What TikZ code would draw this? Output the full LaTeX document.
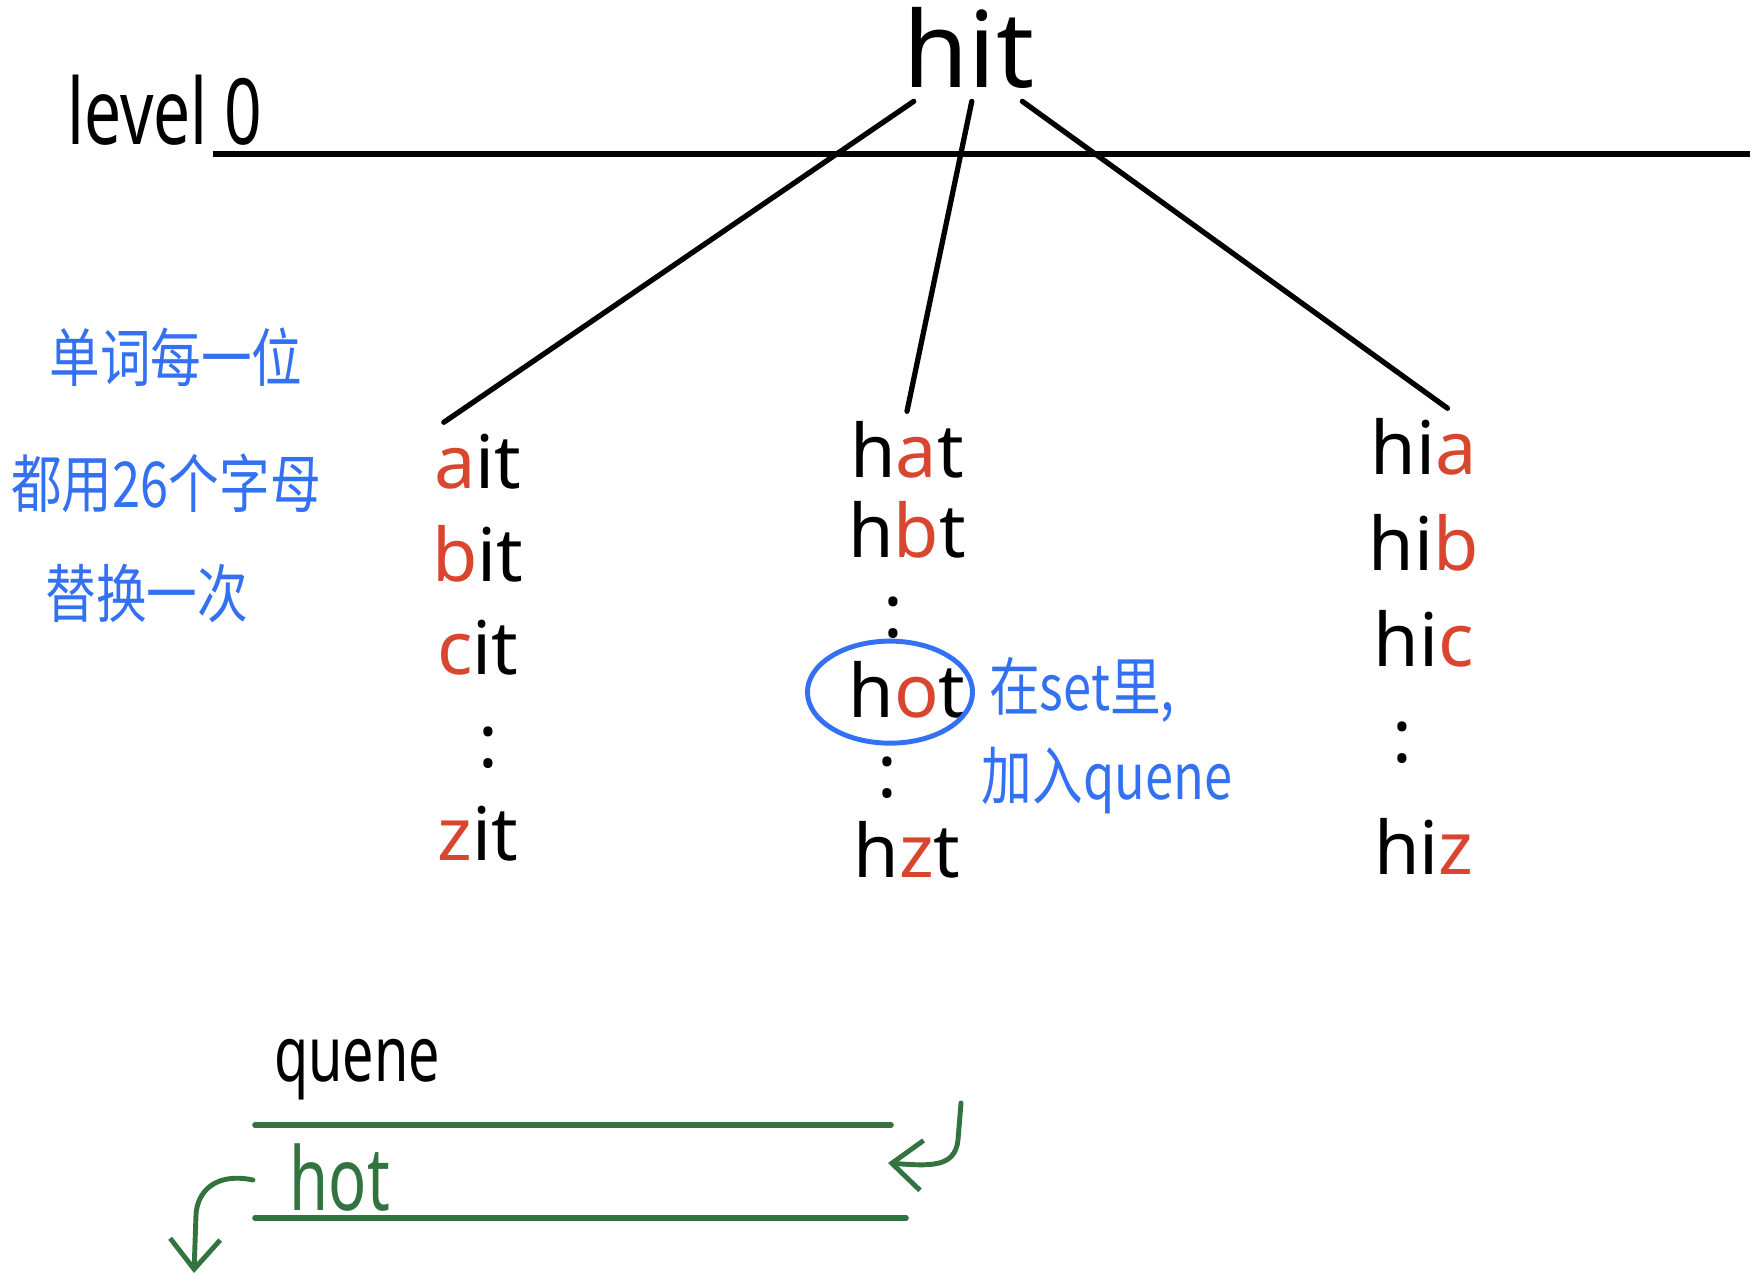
\documentclass[tikz,border=0pt]{standalone}
\usepackage{fontspec}
\setmainfont{Noto Sans}
\newfontfamily\narrowfont[FakeStretch=0.72]{Noto Sans}
\newfontfamily\cjk[FakeStretch=0.8]{Noto Sans CJK SC}
\usepackage{xcolor}
\usetikzlibrary{arrows.meta, positioning, shapes.geometric}

\definecolor{inkred}{HTML}{D9462F}
\definecolor{inkblue}{HTML}{3371F2}
\definecolor{inkgreen}{HTML}{33733F}

\begin{document}
\begin{tikzpicture}[x=0.01cm, y=-0.01cm]
 \tikzstyle{word}=[inner sep=0.1cm, text height=0.55cm, text depth=0.05cm,
   font=\fontsize{21}{24}\selectfont]
 \tikzstyle{note}=[text=inkblue, inner sep=0pt,
   font=\cjk\fontsize{18}{22}\selectfont]
 \tikzstyle{branch}=[line width=1.5pt, line cap=round]
 \tikzstyle{qline}=[draw=inkgreen, line width=1.6pt, line cap=round]
 \tikzstyle{qarrow}=[draw=inkgreen, line width=1.4pt, line cap=round,
   -{Straight Barb[length=0.3cm, width=0.5cm]}]
 \useasboundingbox (0,0) rectangle (1762,1281);
 % root word and the level line
 \node (root) [inner sep=0.12cm, font=\fontsize{30}{34}\selectfont]
   at (969,48) {hit};
 \node (lvl) [font=\narrowfont\fontsize{26}{30}\selectfont]
   at (165,110) {level 0};
 \coordinate (lvlL) at (213,154);
 \coordinate (lvlR) at (1750,154);
 \draw[line width=1.8pt] (lvlL) -- (lvlR);
 % first letter changed
 \node (ait) [word] at (478,463) {\textcolor{inkred}{a}it};
 \begin{scope}[node distance=0.93cm]
 \node (bit) [word,below of=ait] {\textcolor{inkred}{b}it};
 \node (cit) [word,below of=bit] {\textcolor{inkred}{c}it};
 \node (dotsA) [word,below of=cit,xshift=0.1cm] {:};
 \node (zit) [word,below of=dotsA,xshift=-0.1cm] {\textcolor{inkred}{z}it};
 \end{scope}
 % second letter changed
 \node (hat) [word] at (907,452) {h\textcolor{inkred}{a}t};
 \begin{scope}[node distance=0.8cm]
 \node (hbt) [word,below of=hat] {h\textcolor{inkred}{b}t};
 \node (dotsB) [word,below of=hbt,xshift=-0.14cm] {:};
 \node (hot) [word,below of=dotsB,xshift=0.14cm] {h\textcolor{inkred}{o}t};
 \node (dotsC) [word,below of=hot,xshift=-0.2cm] {:};
 \node (hzt) [word,below of=dotsC,xshift=0.2cm] {h\textcolor{inkred}{z}t};
 \end{scope}
 % third letter changed
 \node (hia) [word] at (1424,449) {hi\textcolor{inkred}{a}};
 \begin{scope}[node distance=0.96cm]
 \node (hib) [word,below of=hia] {hi\textcolor{inkred}{b}};
 \node (hic) [word,below of=hib] {hi\textcolor{inkred}{c}};
 \node (dotsD) [word,below of=hic,xshift=-0.22cm] {:};
 \node (hiz) [word,below of=dotsD,xshift=0.22cm,yshift=-0.16cm]
   {hi\textcolor{inkred}{z}};
 \end{scope}
 \draw[branch] (root.224) -- (ait.130);
 \draw[branch] (root.273) -- (hat.north);
 \draw[branch] (root.315) -- (hia.60);
 % blue notes
 \node (tipA) [note] at (176,357) {单词每一位};
 \node (tipB) [note] at (166,483) {都用26个字母};
 \node (tipC) [note] at (147,593) {替换一次};
 \node (ring) [ellipse,draw=inkblue,line width=1.4pt,minimum width=1.65cm,
   minimum height=1.02cm,xshift=-0.17cm] at (hot) {};
 \node (inset) [note,font=\cjk\fontsize{18}{21}\selectfont]
   at (1082,690) {在set里,};
 \node (enq) [note,font=\cjk\fontsize{18}{21}\selectfont]
   at (1107,781) {加入quene};
 % queue
 \node (qname) [font=\narrowfont\fontsize{22}{26}\selectfont]
   at (357,1070) {quene};
 \coordinate (qTopL) at (255,1125);
 \coordinate (qTopR) at (891,1125);
 \coordinate (qBotL) at (255,1218);
 \coordinate (qBotR) at (906,1218);
 \draw[qline] (qTopL) -- (qTopR);
 \draw[qline] (qBotL) -- (qBotR);
 \node (qhot) [text=inkgreen,font=\narrowfont\fontsize{25}{28}\selectfont]
   at (340,1178) {hot};
 \coordinate (inTop) at (961,1103);
 \coordinate (inEnd) at (888,1163);
 \coordinate (outStart) at (253,1180);
 \coordinate (outEnd) at (194,1273);
 \draw[qarrow] (inTop) -- (958,1140)
   .. controls (955,1168) and (930,1166) .. (inEnd);
 \draw[qarrow] (outStart) .. controls (215,1172) and (197,1192) .. (196,1215)
   -- (outEnd);
\end{tikzpicture}
\end{document}
